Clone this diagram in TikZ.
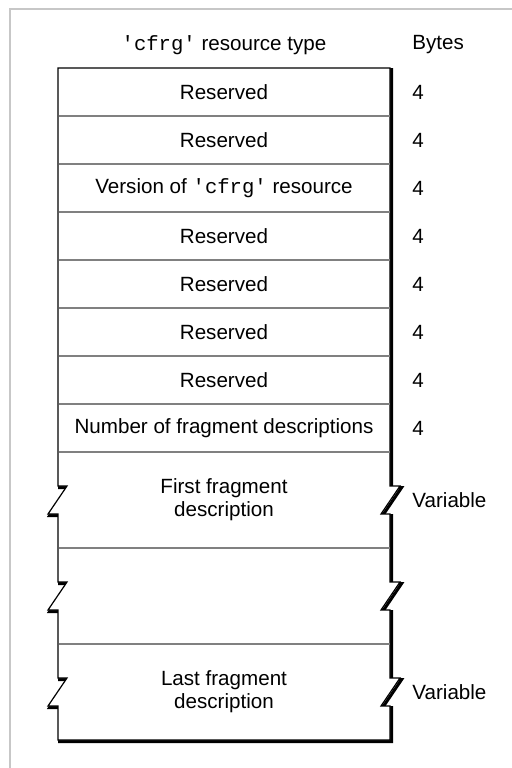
\documentclass[tikz,border=0pt]{standalone}
\usepackage{fontspec}
\setmainfont{Liberation Sans}
\newfontfamily\codefont{Liberation Mono}
\usetikzlibrary{positioning, calc}
\newcommand{\code}[1]{{\codefont\textquotesingle#1\textquotesingle}}
% outline of the record, broken on both sides in the variable part
\newcommand{\recordoutline}[1]{%
  \draw[#1] (58,68) -- (390,68)
    -- (390,486) -- (400,486) -- (381,514) -- (390,514)
    -- (390,582) -- (400,582) -- (381,610) -- (390,610)
    -- (390,678) -- (400,678) -- (381,706) -- (390,706)
    -- (390,740) -- (58,740)
    -- (58,706) -- (48,706) -- (67,678) -- (58,678)
    -- (58,610) -- (48,610) -- (67,582) -- (58,582)
    -- (58,514) -- (48,514) -- (67,486) -- (58,486) -- cycle;}
\tikzset{
  field/.style={inner sep=0pt, align=center},
  size/.style={anchor=west, inner sep=0pt},
  sepline/.style={gray, line width=0.6pt},
}
\begin{document}
\begin{tikzpicture}[x=0.5pt, y=-0.5pt, font=\fontsize{10.3}{11.5}\selectfont]
    \useasboundingbox (0,0) rectangle (512,768);
    \draw[black!22, line width=1pt] (10,9) rectangle (530,790);

    % shadow, then the record itself
    \recordoutline{shift={(1.6,1.6)}, line width=1.5pt, line join=miter}
    \recordoutline{fill=white, line width=0.6pt}

    \foreach \y in {116,164,...,452,548,644}
      \draw[sepline] (58.5,\y) -- (389.5,\y);

    \node[field] (title) at (224,45) {\code{cfrg} resource type};
    \node[size] (bytes) at (412,45) {Bytes};

    \foreach \lbl [count=\i] in {Reserved, Reserved, Version of \code{cfrg} resource,
        Reserved, Reserved, Reserved, Reserved, Number of fragment descriptions} {
      \node[field] (row\i) at (224,{44+48*\i}) {\lbl};
      \node[size] (bytes\i) at (412,{44+48*\i}) {4};
    }

    \node[field] (first) at (224,500) {First fragment\\description};
    \node[size] (firstsize) at (412,500) {Variable};
    \node[field] (last) at (224,692) {Last fragment\\description};
    \node[size] (lastsize) at (412,692) {Variable};
  \end{tikzpicture}
\end{document}
